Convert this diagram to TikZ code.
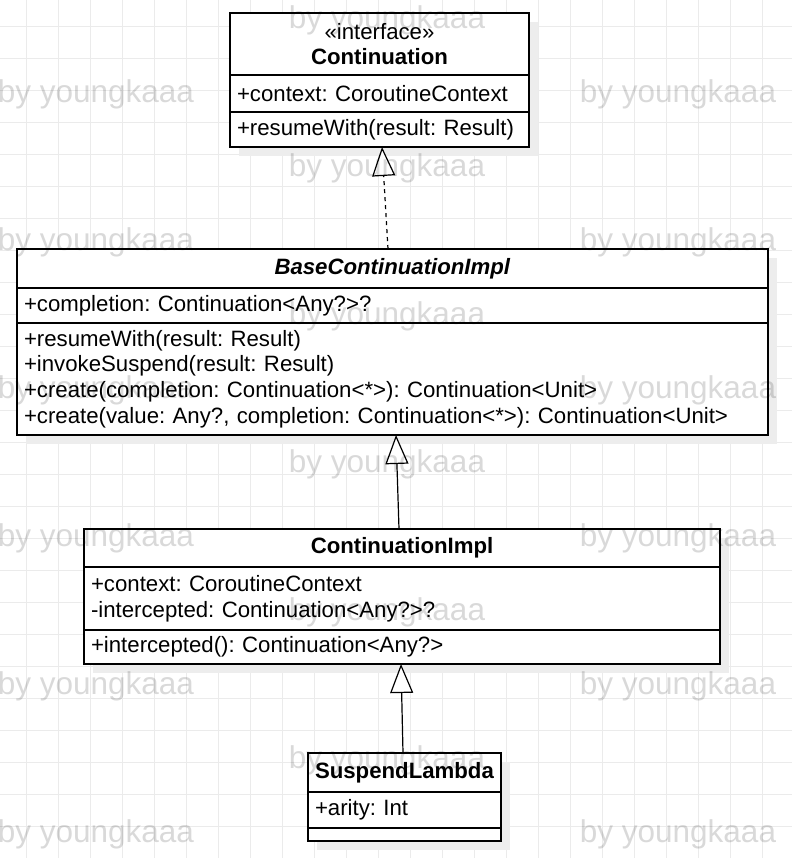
\documentclass[tikz,border=0pt]{standalone}
\usepackage{fontspec}
\setmainfont{Liberation Sans}
\usetikzlibrary{positioning}
\usetikzlibrary{arrows.meta}
\usetikzlibrary{backgrounds,fit}
\usetikzlibrary{calc}
\frenchspacing

\begin{document}
\begin{tikzpicture}[
    x=1pt, y=-1pt,
    font={\fontsize{22.2pt}{25.7pt}\selectfont},
% class box styles
    classhead/.style={rectangle,draw,fill=white,line width=1.2pt,inner sep=0pt,outer sep=0pt,
		align=center,anchor=north west},
    compart/.style={rectangle,draw,fill=white,line width=1.2pt,inner xsep=7pt,inner ysep=0pt,
		outer sep=0pt,align=left},
    inherit/.style={line width=1.2pt,-{Triangle[fill=white,length=29pt,width=23pt]}},
    watermark/.style={text=black,text opacity=0.15,font={\fontsize{31.5pt}{36pt}\selectfont}},
    gridline/.style={draw=black!8,line width=0.8pt}
    ]

  \tikzstyle{shadowbox} = [rectangle,fill=black!7,inner sep=0pt,xshift=9pt,yshift=-9pt]

  \useasboundingbox (0,0) rectangle (792,858);

  % Continuation
  \node (contHead) [classhead,minimum width=299pt,minimum height=62pt] at (230,13)
    {\guillemotleft interface\guillemotright\\\textbf{Continuation}};
  \node (contAttr) [compart,text width=285pt,minimum height=37pt,below=0pt of contHead]
    {+context: CoroutineContext};
  \node (contOps) [compart,text width=285pt,minimum height=35pt,below=0pt of contAttr]
    {+resumeWith(result: Result)};

  % BaseContinuationImpl
  \node (baseHead) [classhead,minimum width=751pt,minimum height=39pt] at (17,249)
    {\textbf{\textit{BaseContinuationImpl}}};
  \node (baseAttr) [compart,text width=737pt,minimum height=35pt,below=0pt of baseHead]
    {+completion: Continuation<Any?>?};
  \node (baseOps) [compart,text width=737pt,minimum height=112pt,below=0pt of baseAttr]
    {+resumeWith(result: Result)\\
     +invokeSuspend(result: Result)\\
     +create(completion: Continuation<*>): Continuation<Unit>\\
     +create(value: Any?, completion: Continuation<*>): Continuation<Unit>};

  % ContinuationImpl
  \node (implHead) [classhead,minimum width=636pt,minimum height=38pt] at (84,529)
    {\textbf{ContinuationImpl}};
  \node (implAttr) [compart,text width=622pt,minimum height=63pt,below=0pt of implHead]
    {+context: CoroutineContext\\
     -intercepted: Continuation<Any?>?};
  \node (implOps) [compart,text width=622pt,minimum height=34pt,below=0pt of implAttr]
    {+intercepted(): Continuation<Any?>};

  % SuspendLambda
  \node (lambdaHead) [classhead,minimum width=193pt,minimum height=39pt] at (308,753)
    {\textbf{SuspendLambda}};
  \node (lambdaAttr) [compart,text width=179pt,minimum height=36pt,below=0pt of lambdaHead]
    {+arity: Int};
  \node (lambdaOps) [compart,text width=179pt,minimum height=13pt,below=0pt of lambdaAttr] {};

  % realization and inheritance
  \draw[inherit,dash pattern=on 4pt off 4pt] ($(baseHead.north)+(-4.5,0)$) -- ($(contOps.south)+(2.5,0)$);
  \draw[inherit] ($(implHead.north)+(-3,0)$) -- ($(baseOps.south)+(3.5,0)$);
  \draw[inherit] ($(lambdaHead.north)+(-1.5,0)$) -- ($(implOps.south)+(-1,0)$);

  % by youngkaaa
  \foreach \wy/\wx [count=\i] in {20/387, 94/96, 94/678, 168/387, 242/96, 242/678,
      316/387, 390/96, 390/678, 464/387, 538/96, 538/678, 612/387, 686/96, 686/678,
      760/387, 834/96, 834/678}
    \node[watermark] (wm\i) at (\wx,\wy) {by youngkaaa};

\begin{pgfonlayer}{background}
  \fill[white] (0,0) rectangle (792,858);
  \foreach \g in {26,58,...,858} {
    \draw[gridline] (\g,0) -- (\g,858);
    \draw[gridline] (0,\g) -- (792,\g);
  }
  \node[shadowbox] (contShadow) [fit = (contHead) (contOps)] {};
  \node[shadowbox] (baseShadow) [fit = (baseHead) (baseOps)] {};
  \node[shadowbox] (implShadow) [fit = (implHead) (implOps)] {};
  \node[shadowbox] (lambdaShadow) [fit = (lambdaHead) (lambdaOps)] {};
\end{pgfonlayer}

\end{tikzpicture}
\end{document}
